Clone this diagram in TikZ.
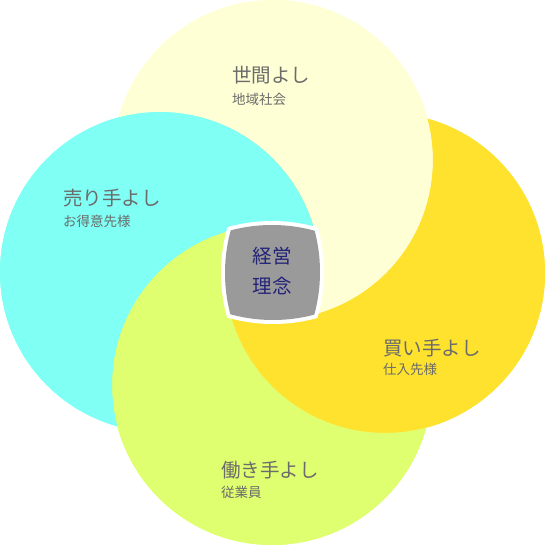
\documentclass[tikz,border=0pt]{standalone}
\usepackage{fontspec}
\newfontfamily\jp{Noto Sans CJK JP}
\definecolor{ctop}{RGB}{255,255,213}
\definecolor{cright}{RGB}{255,226,46}
\definecolor{cbottom}{RGB}{224,255,112}
\definecolor{cleft}{RGB}{128,255,245}
\definecolor{cgray}{RGB}{154,154,154}
\definecolor{ctext}{RGB}{107,107,107}
\definecolor{cnavy}{RGB}{35,35,120}
\tikzset{
  biglabel/.style={anchor=west, inner sep=0pt, text=ctext, font=\jp\fontsize{19.5}{22}\selectfont},
  smalllabel/.style={anchor=west, inner sep=0pt, text=ctext, font=\jp\fontsize{13.5}{16}\selectfont},
  centerlabel/.style={inner sep=0pt, text=cnavy, align=center, font=\jp\fontsize{19.5}{30}\selectfont}
}
\newcommand\outsidecircle[1]{(-20,-20) -- (565,-20) -- (565,565) -- (-20,565) -- cycle (#1) ++(160,0) arc[start angle=0, end angle=-360, radius=160]}
\begin{document}
\begin{tikzpicture}[x=1pt,y=-1pt]
\useasboundingbox (0,0) rectangle (545,545);
\coordinate (T) at (273,160);
\coordinate (R) at (385,273);
\coordinate (B) at (272,385);
\coordinate (L) at (160,272);
% underlay
\fill[ctop] (T) circle (160pt);
\fill[cleft] (L) circle (160pt);
\fill[cbottom] (B) circle (160pt);
\fill[cright] (R) circle (160pt);
% visible part of each circle: own circle minus the circle laid over it
\begin{scope}[even odd rule]
  \clip \outsidecircle{L};
  \fill[ctop] (T) circle (160pt);
\end{scope}
\begin{scope}[even odd rule]
  \clip \outsidecircle{T};
  \fill[cright] (R) circle (160pt);
\end{scope}
\begin{scope}[even odd rule]
  \clip \outsidecircle{R};
  \fill[cbottom] (B) circle (160pt);
\end{scope}
\begin{scope}[even odd rule]
  \clip \outsidecircle{B};
  \fill[cleft] (L) circle (160pt);
\end{scope}
% centre shape: intersection of the four circles
\begin{scope}
  \clip (T) circle (164pt);
  \clip (R) circle (164pt);
  \clip (B) circle (164pt);
  \clip (L) circle (164pt);
  \fill[white] (150,150) rectangle (400,400);
\end{scope}
\begin{scope}
  \clip (T) circle (160pt);
  \clip (R) circle (160pt);
  \clip (B) circle (160pt);
  \clip (L) circle (160pt);
  \fill[cgray] (150,150) rectangle (400,400);
\end{scope}
\node[centerlabel] (core) at (272,271) {経営\\理念};
% labels
\node[biglabel] (t1) at (232,75) {世間よし};
\node[smalllabel] (t2) at (232,99) {地域社会};
\node[biglabel] (l1) at (63,198) {売り手よし};
\node[smalllabel] (l2) at (63,221) {お得意先様};
\node[biglabel] (r1) at (383,348) {買い手よし};
\node[smalllabel] (r2) at (383,369) {仕入先様};
\node[biglabel] (b1) at (221,470) {働き手よし};
\node[smalllabel] (b2) at (221,492) {従業員};
\end{tikzpicture}
\end{document}
